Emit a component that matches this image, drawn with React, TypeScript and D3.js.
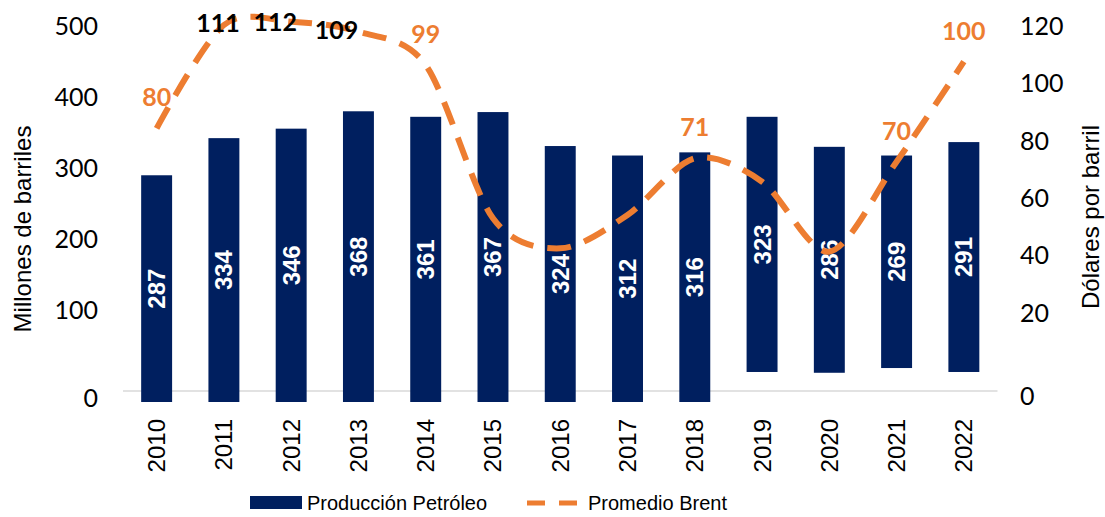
import React from "react";
import * as d3 from "d3";

// ---- data ----
const years = ["2010","2011","2012","2013","2014","2015","2016","2017","2018","2019","2020","2021","2022"];
const production = [287, 334, 346, 368, 361, 367, 324, 312, 316, 323, 286, 269, 291];
// invisible base under the later bars (they float above the axis in the source)
const productionBase = [0, 0, 0, 0, 0, 0, 0, 0, 0, 38, 37, 43, 38];
const brent = [80, 111, 112, 109, 99, 53, 44, 54, 71, 64, 43, 70, 100];
const brentLabelShown = [true, true, true, true, true, false, false, false, true, false, false, true, true];
const brentLabelDark = [false, true, true, true, false, false, false, false, false, false, false, false, false];
const leftTicks = [0, 100, 200, 300, 400, 500];
const rightTicks = [0, 20, 40, 60, 80, 100, 120];

// ---- layout / style ----
const W = 1105, H = 517;
const NAVY = "#001F5F";
const ORANGE = "#ED7D31";
const SANS = "'Liberation Sans', Arial, sans-serif";
const GEO = "Lato, 'Liberation Sans', sans-serif";
// manual nudges for dark labels (dx, dy)
const darkLabelNudge: Record<number, [number, number]> = { 1: [-6, -3], 2: [-16, -1], 3: [-22, -3] };

export default function App() {
  const x = d3.scaleBand<string>().domain(years).range([123, 997.5]).paddingInner(0.54).paddingOuter(0.27);
  const yBar = d3.scaleLinear().domain([0, 500]).range([402, 7]);
  const yLine = d3.scaleLinear().domain([0, 120]).range([395, -5]);
  const yLeftTick = d3.scaleLinear().domain([0, 500]).range([380, 25]);
  const yRightTick = d3.scaleLinear().domain([0, 120]).range([368.8, 25]);

  const cx = (i: number) => (x(years[i]) as number) + x.bandwidth() / 2;

  const line = d3
    .line<number>()
    .x((_, i) => cx(i))
    .y((d) => yLine(d))
    .curve(d3.curveCardinal.tension(0.1));

  return (
    <svg width={W} height={H} style={{ position: "absolute", left: 0, top: 0, background: "#fff" }}>
      {/* axis line */}
      <line x1={x.range()[0]} x2={x.range()[1]} y1={391} y2={391} stroke="#D9D9D9" strokeWidth={1.5} />

      {/* bars */}
      {production.map((v, i) => {
        const base = productionBase[i];
        const y0 = yBar(base);
        const y1 = yBar(base + v);
        return (
          <g key={years[i]}>
            <rect x={x(years[i])} y={y1} width={x.bandwidth()} height={y0 - y1} fill={NAVY} />
            <text
              transform={`translate(${cx(i)},${(y0 + y1) / 2}) rotate(-90)`}
              textAnchor="middle"
              dominantBaseline="central"
              fill="#fff"
              fontFamily={SANS}
              fontWeight="bold"
              fontSize={24}
            >
              {v}
            </text>
          </g>
        );
      })}

      {/* brent line */}
      <path d={line(brent) || ""} fill="none" stroke={ORANGE} strokeWidth={6} strokeDasharray="24 14" />

      {/* brent labels */}
      {brent.map((v, i) => {
        if (!brentLabelShown[i]) return null;
        const dark = brentLabelDark[i];
        const [dx, dy] = dark ? darkLabelNudge[i] : [0, -32];
        return (
          <text
            key={"b" + i}
            x={cx(i) + dx}
            y={yLine(v) + dy}
            textAnchor="middle"
            dominantBaseline="central"
            fill={dark ? "#000" : ORANGE}
            fontFamily={GEO}
            fontWeight="bold"
            fontSize={25}
          >
            {v}
          </text>
        );
      })}

      {/* left ticks */}
      {leftTicks.map((t) => (
        <text
          key={"l" + t}
          x={98}
          y={yLeftTick(t) + (t === 0 ? 17 : 0)}
          textAnchor="end"
          dominantBaseline="central"
          fontFamily={GEO}
          fontSize={25}
          fill="#000"
        >
          {t}
        </text>
      ))}

      {/* right ticks */}
      {rightTicks.map((t) => (
        <text
          key={"r" + t}
          x={1020}
          y={yRightTick(t) + (t === 0 ? 26 : 0)}
          textAnchor="start"
          dominantBaseline="central"
          fontFamily={GEO}
          fontSize={25}
          fill="#000"
        >
          {t}
        </text>
      ))}

      {/* x tick labels */}
      {years.map((yr, i) => (
        <text
          key={"x" + yr}
          transform={`translate(${cx(i)},419) rotate(-90)`}
          textAnchor="end"
          dominantBaseline="central"
          fontFamily={SANS}
          fontSize={24}
          fill="#000"
        >
          {yr}
        </text>
      ))}

      {/* axis titles */}
      <text
        transform={`translate(22,229) rotate(-90)`}
        textAnchor="middle"
        dominantBaseline="central"
        fontFamily={SANS}
        fontSize={24}
        fill="#000"
      >
        Millones de barriles
      </text>
      <text
        transform={`translate(1090,217) rotate(-90)`}
        textAnchor="middle"
        dominantBaseline="central"
        fontFamily={SANS}
        fontSize={24}
        fill="#000"
      >
        Dólares por barril
      </text>

      {/* legend */}
      <rect x={250} y={496} width={52} height={13} fill={NAVY} />
      <text x={307} y={510} fontFamily={SANS} fontSize={20} fill="#000">
        Producción Petróleo
      </text>
      <line x1={527} x2={578} y1={503} y2={503} stroke={ORANGE} strokeWidth={5} strokeDasharray="18 14" />
      <text x={588} y={510} fontFamily={SANS} fontSize={20} fill="#000">
        Promedio Brent
      </text>
    </svg>
  );
}
